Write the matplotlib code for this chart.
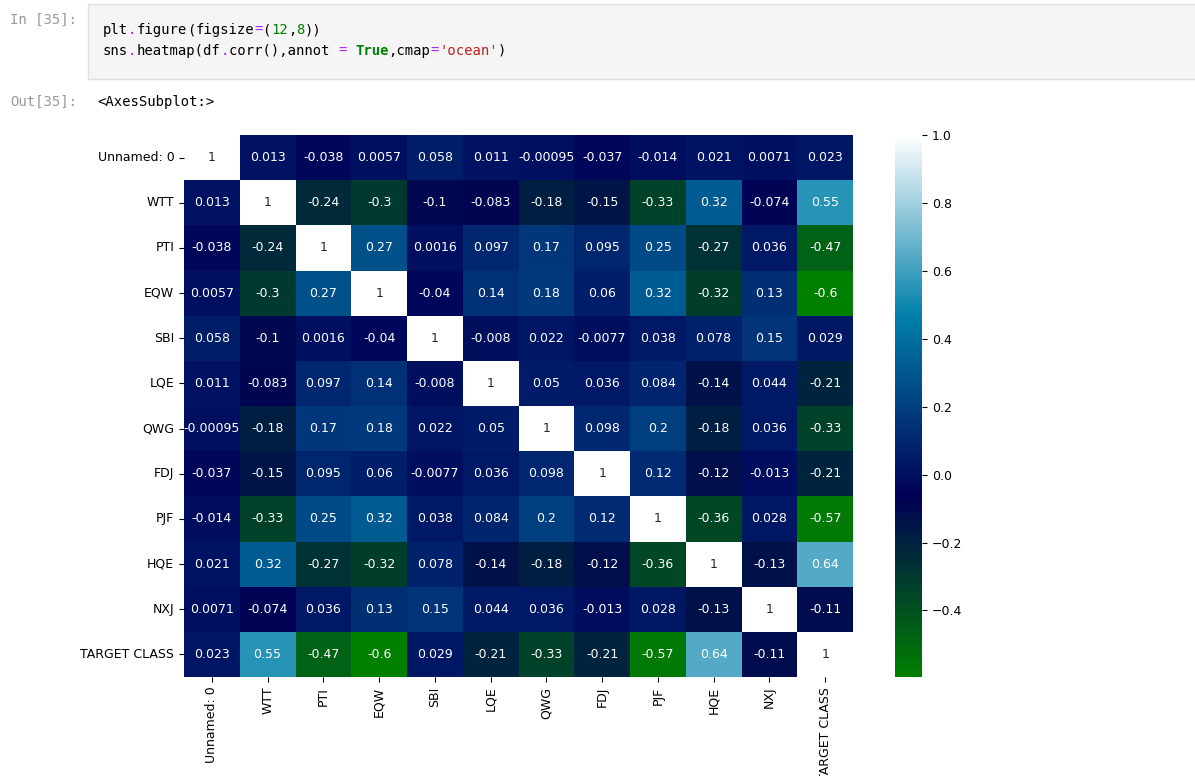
import matplotlib
matplotlib.use("Agg")
import matplotlib.pyplot as plt
from matplotlib.patches import Rectangle
import pandas as pd
import seaborn as sns

W, H = 1195, 776

columns = ["Unnamed: 0", "WTT", "PTI", "EQW", "SBI", "LQE", "QWG",
           "FDJ", "PJF", "HQE", "NXJ", "TARGET CLASS"]

# correlation matrix, one row per variable
# (EQW/TARGET shows "-0.6" but the colorbar stops just above -0.6)
corr_rows = [
    [1, 0.013, -0.038, 0.0057, 0.058, 0.011, -0.00095, -0.037, -0.014, 0.021, 0.0071, 0.023],
    [0.013, 1, -0.24, -0.3, -0.1, -0.083, -0.18, -0.15, -0.33, 0.32, -0.074, 0.55],
    [-0.038, -0.24, 1, 0.27, 0.0016, 0.097, 0.17, 0.095, 0.25, -0.27, 0.036, -0.47],
    [0.0057, -0.3, 0.27, 1, -0.04, 0.14, 0.18, 0.06, 0.32, -0.32, 0.13, -0.596],
    [0.058, -0.1, 0.0016, -0.04, 1, -0.008, 0.022, -0.0077, 0.038, 0.078, 0.15, 0.029],
    [0.011, -0.083, 0.097, 0.14, -0.008, 1, 0.05, 0.036, 0.084, -0.14, 0.044, -0.21],
    [-0.00095, -0.18, 0.17, 0.18, 0.022, 0.05, 1, 0.098, 0.2, -0.18, 0.036, -0.33],
    [-0.037, -0.15, 0.095, 0.06, -0.0077, 0.036, 0.098, 1, 0.12, -0.12, -0.013, -0.21],
    [-0.014, -0.33, 0.25, 0.32, 0.038, 0.084, 0.2, 0.12, 1, -0.36, 0.028, -0.57],
    [0.021, 0.32, -0.27, -0.32, 0.078, -0.14, -0.18, -0.12, -0.36, 1, -0.13, 0.64],
    [0.0071, -0.074, 0.036, 0.13, 0.15, 0.044, 0.036, -0.013, 0.028, -0.13, 1, -0.11],
    [0.023, 0.55, -0.47, -0.596, 0.029, -0.21, -0.33, -0.21, -0.57, 0.64, -0.11, 1],
]

code_line1 = [("plt", "k"), (".", "op"), ("figure", "k"), ("(", "k"), ("figsize", "k"),
              ("=", "op"), ("(", "k"), ("12", "num"), (",", "k"), ("8", "num"), ("))", "k")]
code_line2 = [("sns", "k"), (".", "op"), ("heatmap(df", "k"), (".", "op"), ("corr(),annot ", "k"),
              ("=", "op"), (" ", "k"), ("True", "kw"), (",cmap", "k"), ("=", "op"),
              ("'ocean'", "str"), (")", "k")]


def fx(x):
    return x / W


def fy(y):
    return 1 - y / H


def draw_code(fig, x0, y, segments, char_w=8.4):
    # monospace font, so step along by character count
    styles = {"k": ("#000000", "normal"), "op": ("#aa22ff", "normal"),
              "num": ("#008000", "normal"), "kw": ("#008000", "bold"),
              "str": ("#ba2121", "normal")}
    n = 0
    for text, kind in segments:
        color, weight = styles[kind]
        fig.text(fx(x0 + n * char_w), fy(y), text, color=color, fontweight=weight,
                 family="DejaVu Sans Mono", fontsize=10, va="center", ha="left")
        n += len(text)


plt.rcParams["font.size"] = 9
fig = plt.figure(figsize=(W / 100, H / 100), dpi=100)

# notebook chrome: input cell and prompts
fig.add_artist(Rectangle((fx(88), fy(79)), fx(1200) - fx(88), fy(4) - fy(79),
                         transform=fig.transFigure, facecolor="#f5f5f5",
                         edgecolor="#e0e0e0", linewidth=1))
fig.text(fx(10), fy(20), "In [35]:", color="#999999", family="DejaVu Sans Mono",
         fontsize=10, va="center")
draw_code(fig, 103, 30, code_line1)
draw_code(fig, 103, 51, code_line2)
fig.text(fx(10), fy(102), "Out[35]:", color="#999999", family="DejaVu Sans Mono",
         fontsize=10, va="center")
fig.text(fx(97), fy(102), "<AxesSubplot:>", color="#000000", family="DejaVu Sans Mono",
         fontsize=10, va="center")

# heatmap
df_corr = pd.DataFrame(corr_rows, index=columns, columns=columns)
ax = fig.add_axes([fx(184), fy(677), fx(853) - fx(184), fy(135) - fy(677)])
cax = fig.add_axes([fx(895), fy(677), fx(922) - fx(895), fy(135) - fy(677)])
sns.heatmap(df_corr, annot=True, cmap="ocean", ax=ax, cbar_ax=cax)
ax.set_xticklabels(columns, rotation=90)
ax.set_yticklabels(columns, rotation=0)

fig.savefig("out.png", dpi=100)
